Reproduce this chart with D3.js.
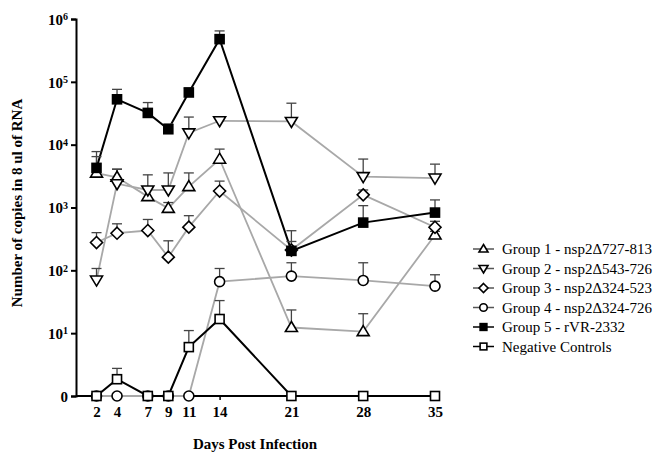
<!DOCTYPE html>
<html>
<head>
<meta charset="utf-8">
<title>RNA copies by day</title>
<script src="https://cdn.jsdelivr.net/npm/d3@7/dist/d3.min.js"></script>
<style>
  body { margin: 0; background: #fff; }
  text { font-family: "Liberation Serif", "Times New Roman", serif; }
</style>
</head>
<body>
<div id="chart"></div>

<script>
// ---- data ----
var days = [2, 4, 7, 9, 11, 14, 21, 28, 35];

var group1 = [3530, 3030, 1490, 970, 2150, 5870, 12.3, 10.6, 366];
var group1Err = [6460, 4070, 2000, 1200, 3550, 8500, 23.4, 20.4, 417];

var group2 = [70, 2390, 1900, 1900, 15400, 24000, 23400, 3100, 2940];
var group2Err = [107, 4070, 3310, 3550, 27500, 24000, 45700, 5900, 4900];

var group3 = [277, 390, 430, 162, 487, 1830, 210, 1590, 485];
var group3Err = [398, 550, 645, 295, 741, 2630, 427, 1900, 603];

var group4 = [0, 0, 0, 0, 0, 66, 81, 69, 56];
var group4Err = [0, 0, 0, 0, 0, 107, 132, 132, 85];

var group5 = [4270, 52700, 32000, 17600, 67700, 478000, 204, 575, 830];
var group5Err = [7760, 75900, 46800, 21400, 79400, 646000, 288, 1070, 1320];

var negCtrl = [0, 1.85, 0, 0, 6.0, 16.8, 0, 0, 0];
var negCtrlErr = [0, 2.75, 0, 0, 11, 33, 0, 0, 0];

var seriesNames = ["Group 1 - nsp2\u0394727-813", "Group 2 - nsp2\u0394543-726",
                   "Group 3 - nsp2\u0394324-523", "Group 4 - nsp2\u0394324-726",
                   "Group 5 - rVR-2332", "Negative Controls"];
var yTicks = [1, 10, 100, 1000, 10000, 100000, 1000000];

var series = [
  { name: seriesNames[0], vals: group1, err: group1Err, shape: "up",      line: "#a8a8a8", fill: "#fff" },
  { name: seriesNames[1], vals: group2, err: group2Err, shape: "down",    line: "#a8a8a8", fill: "#fff" },
  { name: seriesNames[2], vals: group3, err: group3Err, shape: "diamond", line: "#a8a8a8", fill: "#fff" },
  { name: seriesNames[3], vals: group4, err: group4Err, shape: "circle",  line: "#a8a8a8", fill: "#fff" },
  { name: seriesNames[4], vals: group5, err: group5Err, shape: "square",  line: "#000",    fill: "#000" },
  { name: seriesNames[5], vals: negCtrl, err: negCtrlErr, shape: "square", line: "#000",    fill: "#fff" }
];

var width = 657, height = 453;

var svg = d3.select("#chart").append("svg")
  .attr("width", width)
  .attr("height", height);

var x = d3.scaleLinear().domain([0, 35]).range([76, 435]);
var y = d3.scaleLog().domain([1, 1e6]).range([396, 19]);

// zero is drawn on the bottom line
function yv(v) { return y(v > 0 ? Math.max(v, 1) : 1); }

// ---- axes ----
var yAxis = svg.append("g")
  .attr("transform", "translate(76,0)")
  .call(d3.axisLeft(y).tickValues(yTicks).tickSize(5).tickFormat(""));
yAxis.select(".domain").attr("stroke-width", 2);
yAxis.selectAll(".tick line").attr("stroke-width", 2);

yAxis.selectAll(".tick").each(function(d) {
  var t = d3.select(this).append("text")
    .attr("x", -8).attr("dy", "0.35em")
    .attr("text-anchor", "end")
    .attr("fill", "#000")
    .style("font-size", "15px").style("font-weight", "bold")
    .style("font-family", "Liberation Serif, serif");
  if (d === 1) {
    t.text("0");
  } else {
    var p = Math.round(Math.log10(d));
    t.append("tspan").text("10");
    t.append("tspan").attr("dy", "-0.45em").style("font-size", "10px").text(p);
  }
});

var xAxis = svg.append("g")
  .attr("transform", "translate(0,396)")
  .call(d3.axisBottom(x).tickValues(days).tickSize(4).tickSizeOuter(0).tickPadding(6));
xAxis.select(".domain").attr("stroke-width", 2).attr("d", "M76,0H437");
xAxis.selectAll(".tick line").attr("stroke-width", 1.5);
xAxis.selectAll(".tick text")
  .style("font-size", "15px").style("font-weight", "bold")
  .style("font-family", "Liberation Serif, serif");

// axis titles
svg.append("text")
  .attr("transform", "translate(22,203) rotate(-90)")
  .attr("text-anchor", "middle")
  .style("font-size", "15px").style("font-weight", "bold")
  .text("Number of copies in 8 ul of  RNA");

svg.append("text")
  .attr("x", 255).attr("y", 449)
  .attr("text-anchor", "middle")
  .style("font-size", "15px").style("font-weight", "bold")
  .text("Days Post Infection");

// ---- markers ----
function drawMarker(g, shape, cx, cy, fill, k) {
  k = k || 1;
  var s;
  if (shape === "circle") {
    s = g.append("circle").attr("cx", cx).attr("cy", cy).attr("r", 5 * k);
  } else if (shape === "square") {
    s = g.append("rect").attr("x", cx - 4.5 * k).attr("y", cy - 4.5 * k).attr("width", 9 * k).attr("height", 9 * k);
  } else if (shape === "up") {
    s = g.append("path").attr("d", "M" + cx + "," + (cy - 6 * k) + "L" + (cx + 6 * k) + "," + (cy + 4 * k) + "L" + (cx - 6 * k) + "," + (cy + 4 * k) + "Z");
  } else if (shape === "down") {
    s = g.append("path").attr("d", "M" + cx + "," + (cy + 6 * k) + "L" + (cx + 6 * k) + "," + (cy - 4 * k) + "L" + (cx - 6 * k) + "," + (cy - 4 * k) + "Z");
  } else {
    s = g.append("path").attr("d", "M" + cx + "," + (cy - 6 * k) + "L" + (cx + 6 * k) + "," + cy + "L" + cx + "," + (cy + 6 * k) + "L" + (cx - 6 * k) + "," + cy + "Z");
  }
  s.attr("fill", fill).attr("stroke", "#000").attr("stroke-width", 1.6);
}

var line = d3.line()
  .x(function(d, i) { return x(days[i]); })
  .y(function(d) { return yv(d); });

// lines
series.forEach(function(s) {
  svg.append("path")
    .datum(s.vals)
    .attr("d", line)
    .attr("fill", "none")
    .attr("stroke", s.line)
    .attr("stroke-width", s.line === "#000" ? 2 : 1.8);
});

// error bars (upper only)
series.forEach(function(s) {
  s.vals.forEach(function(v, i) {
    if (!(v > 0) || !(s.err[i] > v)) return;
    var cx = x(days[i]), y0 = yv(v), y1 = yv(s.err[i]);
    svg.append("line").attr("x1", cx).attr("x2", cx).attr("y1", y0).attr("y2", y1)
      .attr("stroke", "#444").attr("stroke-width", 1.3);
    svg.append("line").attr("x1", cx - 5).attr("x2", cx + 5).attr("y1", y1).attr("y2", y1)
      .attr("stroke", "#444").attr("stroke-width", 1.3);
  });
});

// symbols
series.forEach(function(s) {
  var g = svg.append("g");
  s.vals.forEach(function(v, i) {
    drawMarker(g, s.shape, x(days[i]), yv(v), s.fill);
  });
});

// ---- legend ----
var legend = svg.append("g");
series.forEach(function(s, i) {
  var ly = 249 + i * 19.5;
  legend.append("line").attr("x1", 473).attr("x2", 494).attr("y1", ly).attr("y2", ly)
    .attr("stroke", s.line === "#000" ? "#000" : "#555").attr("stroke-width", 1.5);
  drawMarker(legend, s.shape, 483.5, ly, s.fill, 0.75);
  legend.append("text")
    .attr("x", 502).attr("y", ly).attr("dy", "0.35em")
    .style("font-size", "15px")
    .text(s.name);
});
</script>
</body>
</html>
